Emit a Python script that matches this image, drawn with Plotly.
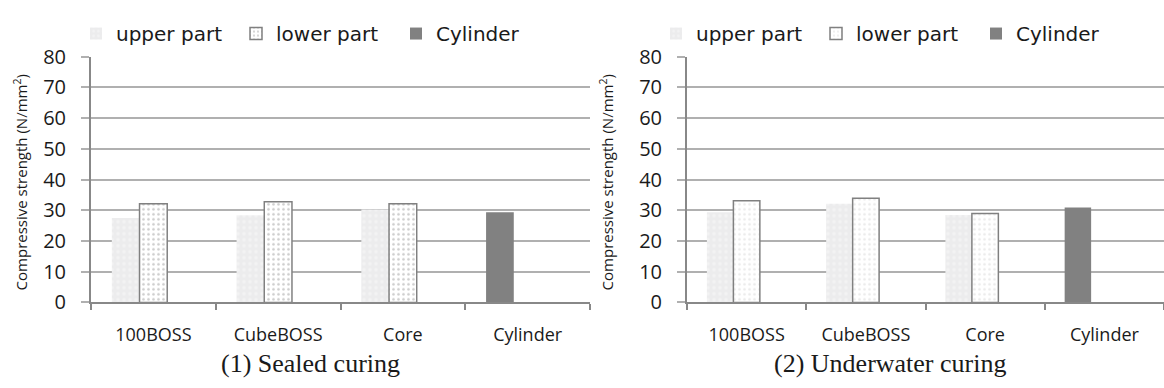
import plotly.graph_objects as go

# Compressive strength (N/mm2) by specimen type
categories = ["100BOSS", "CubeBOSS", "Core", "Cylinder"]

sealed_upper = [27.5, 28.4, 30.3, None]
sealed_lower = [32.1, 32.8, 32.1, None]
sealed_cylinder = [None, None, None, 29.4]

water_upper = [29.4, 32.1, 28.5, None]
water_lower = [33.1, 33.9, 29.0, None]
water_cylinder = [None, None, None, 30.9]

y_ticks = [0, 10, 20, 30, 40, 50, 60, 70, 80]

W, H = 1164, 388
FONT = "Open Sans"
GRID = "#b0b0b0"
AXIS = "#888888"
BAR_W = 0.222


def add_panel(fig, xref, yref, legend, upper, lower, cyl, lower_dot):
    fig.add_trace(go.Bar(
        x=categories, y=upper, name="upper part", xaxis=xref, yaxis=yref,
        legend=legend, width=BAR_W, offset=-1.5 * BAR_W,
        marker=dict(color="#ededee", line=dict(width=0),
                    pattern=dict(shape=".", bgcolor="#ececed", fgcolor="#f9f9f9",
                                 size=6, solidity=0.25)),
    ))
    fig.add_trace(go.Bar(
        x=categories, y=lower, name="lower part", xaxis=xref, yaxis=yref,
        legend=legend, width=BAR_W, offset=-0.5 * BAR_W,
        marker=dict(color="white", line=dict(width=1.5, color="#808080"),
                    pattern=dict(shape=".", bgcolor="white", fgcolor=lower_dot,
                                 size=5, solidity=0.22)),
    ))
    fig.add_trace(go.Bar(
        x=categories, y=cyl, name="Cylinder", xaxis=xref, yaxis=yref,
        legend=legend, width=BAR_W, offset=-1.5 * BAR_W,
        marker=dict(color="#818181", line=dict(width=0)),
    ))


fig = go.Figure()
add_panel(fig, "x", "y", "legend", sealed_upper, sealed_lower, sealed_cylinder, "#999999")
add_panel(fig, "x2", "y2", "legend2", water_upper, water_lower, water_cylinder, "#d8d8d8")

y_top = 1 - 46 / H
y_bot = 1 - 310 / H

xaxis_common = dict(
    type="category", range=[-0.5, 3.5], showgrid=False,
    showline=True, linecolor=AXIS, linewidth=2,
    ticks="outside", tickson="boundaries", ticklen=6, tickcolor=AXIS, tickwidth=1.5,
    tickfont=dict(family=FONT, size=18, color="#1a1a1a"),
    ticklabelstandoff=15, fixedrange=True,
)
yaxis_common = dict(
    range=[0, 80], tickvals=y_ticks, showgrid=True, gridcolor=GRID, gridwidth=1.5,
    showline=True, linecolor=AXIS, linewidth=2, zeroline=False,
    ticks="outside", ticklen=8, tickcolor=GRID, tickwidth=1.5,
    tickfont=dict(family=FONT, size=20, color="#1a1a1a"),
    ticklabelstandoff=11, domain=[y_bot, y_top],
)

legend_common = dict(
    orientation="h", yanchor="middle", y=1 - 21 / H, xanchor="left",
    font=dict(family="DejaVu Sans", size=20, color="#1a1a1a"),
    bgcolor="rgba(0,0,0,0)", itemclick=False, itemdoubleclick=False,
    tracegroupgap=0, itemwidth=30, entrywidth=115, entrywidthmode="pixels",
)

fig.update_layout(
    width=W, height=H, margin=dict(l=0, r=0, t=0, b=0),
    paper_bgcolor="white", plot_bgcolor="white",
    barmode="overlay", showlegend=True,
    xaxis=dict(xaxis_common, domain=[91 / W, 590 / W], anchor="y"),
    yaxis=dict(yaxis_common, anchor="x"),
    xaxis2=dict(xaxis_common, domain=[687 / W, 1.0], anchor="y2"),
    yaxis2=dict(yaxis_common, anchor="x2"),
    legend=dict(legend_common, x=76 / W),
    legend2=dict(legend_common, x=656 / W),
    font=dict(family=FONT),
)

title_text = "Compressive strength (N/mm<sup>2</sup>)"
for xc in (20, 606):
    fig.add_annotation(
        text=title_text, xref="paper", yref="paper", x=xc / W, y=1 - 181 / H,
        textangle=-90, showarrow=False, xanchor="center", yanchor="middle",
        font=dict(family=FONT, size=15, color="#1a1a1a"),
    )

for xc, caption in ((310, "(1) Sealed curing"), (890, "(2) Underwater curing")):
    fig.add_annotation(
        text=caption, xref="paper", yref="paper", x=xc / W, y=-4 / H,
        showarrow=False, xanchor="center", yanchor="bottom", borderpad=0,
        font=dict(family="Liberation Serif", size=26, color="#1a1a1a"),
    )

fig.write_html("out.html")
